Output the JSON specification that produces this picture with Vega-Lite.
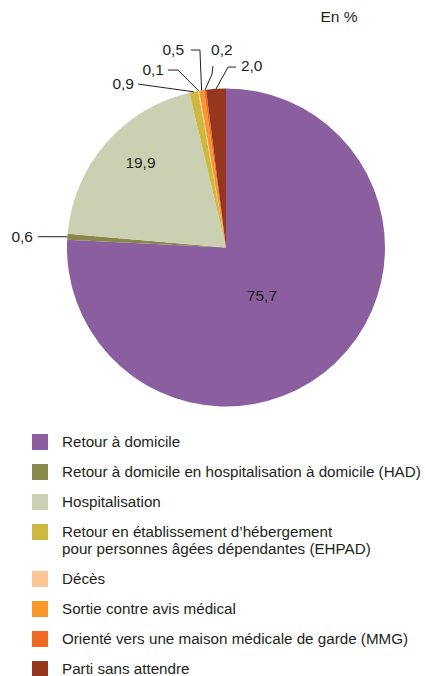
{
  "$schema": "https://vega.github.io/schema/vega-lite/v6.json",
  "autosize": {"type": "none"},
  "width": 398,
  "height": 435,
  "padding": {"left": 27, "top": 30, "right": 0, "bottom": 211},
  "background": "white",
  "config": {
    "view": {"stroke": null},
    "font": "Liberation Sans",
    "text": {"font": "Liberation Sans", "fontSize": 15.5, "color": "#231F20"}
  },
  "data": {
    "values": [
      {"cat": "Retour à domicile", "value": 75.7},
      {"cat": "Retour à domicile en hospitalisation à domicile (HAD)", "value": 0.6},
      {"cat": "Hospitalisation", "value": 19.9},
      {"cat": "Retour en établissement d’hébergement pour personnes âgées dépendantes (EHPAD)", "value": 0.9},
      {"cat": "Décès", "value": 0.1},
      {"cat": "Sortie contre avis médical", "value": 0.5},
      {"cat": "Orienté vers une maison médicale de garde (MMG)", "value": 0.2},
      {"cat": "Parti sans attendre", "value": 2.0}
    ]
  },
  "transform": [
    {"window": [{"op": "sum", "field": "value", "as": "cum"}, {"op": "row_number", "as": "ord"}], "frame": [null, 0]},
    {"joinaggregate": [{"op": "sum", "field": "value", "as": "total"}]},
    {"calculate": "2*PI*(datum.cum - datum.value/2)/datum.total", "as": "mid"},
    {"calculate": "sin(datum.mid)", "as": "ex"},
    {"calculate": "cos(datum.mid)", "as": "ey"},
    {"calculate": "replace(format(datum.value, '.1f'), '.', ',')", "as": "label"},
    {"calculate": "[[0.226,-0.305],[-1.214,0.068],[-0.538,0.531],[-0.579,1.028],[-0.39,1.116],[-0.264,1.242],[-0.094,1.242],[0.094,1.141]][datum.ord-1]", "as": "tpos"},
    {"calculate": "datum.tpos[0]", "as": "tx"},
    {"calculate": "datum.tpos[1]", "as": "ty"}
  ],
  "layer": [
    {
      "mark": {"type": "arc", "outerRadius": 159, "stroke": null},
      "encoding": {
        "theta": {"field": "value", "type": "quantitative", "stack": true},
        "order": {"field": "ord", "type": "quantitative"},
        "color": {
          "field": "cat",
          "type": "nominal",
          "scale": {
            "domain": [
              "Retour à domicile",
              "Retour à domicile en hospitalisation à domicile (HAD)",
              "Hospitalisation",
              "Retour en établissement d’hébergement pour personnes âgées dépendantes (EHPAD)",
              "Décès",
              "Sortie contre avis médical",
              "Orienté vers une maison médicale de garde (MMG)",
              "Parti sans attendre"
            ],
            "range": ["#8B5E9F", "#88884C", "#CCD0B2", "#CDB840", "#FDC697", "#F7962A", "#F16A23", "#95361E"]
          },
          "legend": {
            "title": null,
            "orient": "none",
            "legendX": 5,
            "legendY": 404,
            "symbolType": "square",
            "symbolSize": 256,
            "symbolStrokeWidth": 0,
            "labelFont": "Liberation Sans",
            "labelFontSize": 15.2,
            "labelColor": "#231F20",
            "labelOffset": 14,
            "labelLimit": 0,
            "rowPadding": 13,
            "labelExpr": "indexof(datum.label, 'EHPAD') >= 0 ? ['Retour en établissement d’hébergement', 'pour personnes âgées dépendantes (EHPAD)'] : datum.label"
          }
        }
      }
    },
    {
      "transform": [
        {"filter": "datum.ord != 1 && datum.ord != 3"},
        {"calculate": "[[0,0],[-1.182,0.068],[0,0],[-0.553,1.028],[-0.302,1.116],[-0.164,1.242],[-0.088,1.091],[0.013,1.135]][datum.ord-1]", "as": "bpos"},
        {"calculate": "[[0,0],[-1.182,0.068],[0,0],[-0.553,1.028],[-0.365,1.116],[-0.22,1.242],[-0.082,1.141],[0.063,1.135]][datum.ord-1]", "as": "npos"},
        {"calculate": "[datum.ex, datum.bpos[0], datum.npos[0]]", "as": "lx"},
        {"calculate": "[datum.ey, datum.bpos[1], datum.npos[1]]", "as": "ly"},
        {"calculate": "[0, 1, 2]", "as": "lk"},
        {"flatten": ["lx", "ly", "lk"]}
      ],
      "mark": {"type": "line", "color": "#231F20", "strokeWidth": 1},
      "encoding": {
        "x": {"field": "lx", "type": "quantitative", "scale": {"domain": [-1.25157, 1.25157], "nice": false, "zero": false}, "axis": null},
        "y": {"field": "ly", "type": "quantitative", "scale": {"domain": [-1.36792, 1.36792], "nice": false, "zero": false}, "axis": null},
        "detail": {"field": "cat", "type": "nominal"},
        "order": {"field": "lk", "type": "quantitative"}
      }
    },
    {
      "transform": [{"filter": "datum.ord == 1 || datum.ord == 3"}],
      "mark": {"type": "text", "align": "center", "baseline": "middle"},
      "encoding": {
        "x": {"field": "tx", "type": "quantitative"},
        "y": {"field": "ty", "type": "quantitative"},
        "text": {"field": "label"}
      }
    },
    {
      "transform": [{"filter": "datum.ord == 2 || datum.ord == 4 || datum.ord == 5 || datum.ord == 6"}],
      "mark": {"type": "text", "align": "right", "baseline": "middle"},
      "encoding": {
        "x": {"field": "tx", "type": "quantitative"},
        "y": {"field": "ty", "type": "quantitative"},
        "text": {"field": "label"}
      }
    },
    {
      "transform": [{"filter": "datum.ord == 7 || datum.ord == 8"}],
      "mark": {"type": "text", "align": "left", "baseline": "middle"},
      "encoding": {
        "x": {"field": "tx", "type": "quantitative"},
        "y": {"field": "ty", "type": "quantitative"},
        "text": {"field": "label"}
      }
    },
    {
      "data": {"values": [{"t": "En %"}]},
      "mark": {"type": "text", "align": "center", "baseline": "middle"},
      "encoding": {
        "x": {"datum": 0.711, "type": "quantitative"},
        "y": {"datum": 1.45, "type": "quantitative"},
        "text": {"field": "t"}
      }
    }
  ]
}
